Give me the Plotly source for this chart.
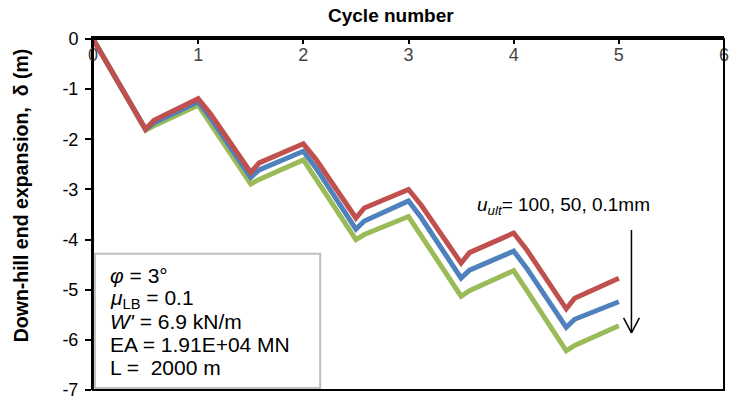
import plotly.graph_objects as go

# Cycle position of each recorded point (half cycles with reload / unload kinks)
cycle = [0, 0.5, 0.58, 1.0, 1.12, 1.5, 1.58, 2.0, 2.12, 2.5, 2.58,
         3.0, 3.12, 3.5, 3.58, 4.0, 4.12, 4.5, 4.58, 5.0]

# Down-hill end expansion (m) for each ultimate displacement u_ult
delta_100mm = [0, -1.80, -1.62, -1.19, -1.50, -2.66, -2.47, -2.09, -2.40, -3.57, -3.37,
               -3.00, -3.31, -4.47, -4.26, -3.87, -4.19, -5.38, -5.17, -4.77]
delta_50mm = [0, -1.80, -1.67, -1.25, -1.58, -2.76, -2.61, -2.24, -2.57, -3.79, -3.63,
              -3.23, -3.56, -4.77, -4.61, -4.23, -4.56, -5.75, -5.59, -5.24]
delta_01mm = [0, -1.82, -1.73, -1.32, -1.70, -2.89, -2.80, -2.41, -2.79, -4.00, -3.90,
              -3.54, -3.92, -5.13, -5.02, -4.62, -5.00, -6.22, -6.11, -5.72]

series_names = ["u_ult = 100 mm", "u_ult = 50 mm", "u_ult = 0.1 mm"]
series_colors = ["#C0504D", "#4F81BD", "#9BBB59"]

x_ticks = [0, 1, 2, 3, 4, 5, 6]
y_ticks = [0, -1, -2, -3, -4, -5, -6, -7]
y_tick_text = ["0", "-1", "-2", "-3", "-4", "-5", "-6", "-7"]

info_lines = [
    "<i>φ</i> = 3°",
    "<i>μ</i><sub>LB</sub> = 0.1",
    "<i>W'</i> = 6.9 kN/m",
    "EA = 1.91E+04 MN",
    "L =  2000 m",
]

FONT = "Arial, Liberation Sans, sans-serif"

fig = go.Figure()

# draw green first, then blue, then red on top
for ys, name, color in [(delta_01mm, series_names[2], series_colors[2]),
                        (delta_50mm, series_names[1], series_colors[1]),
                        (delta_100mm, series_names[0], series_colors[0])]:
    fig.add_trace(go.Scatter(x=cycle, y=ys, mode="lines", name=name,
                             line=dict(color=color, width=5),
                             showlegend=False))

fig.update_layout(
    width=734, height=405,
    margin=dict(l=93, r=5, t=39, b=10),
    paper_bgcolor="white", plot_bgcolor="white",
    font=dict(family=FONT, size=18, color="black"),
    xaxis=dict(
        range=[0, 6], tickvals=x_ticks, side="top",
        ticks="inside", ticklen=5, tickwidth=2, tickcolor="black",
        ticklabelposition="inside", ticklabeloverflow="allow",
        ticklabelstandoff=5,
        showline=True, linecolor="black", linewidth=3,
        showgrid=False, zeroline=False,
        tickfont=dict(size=18),
    ),
    yaxis=dict(
        range=[-7, 0], tickvals=y_ticks, ticktext=y_tick_text,
        ticks="outside", ticklen=6, tickwidth=1.5, tickcolor="black",
        ticklabelstandoff=3, ticklabeloverflow="allow",
        showline=True, linecolor="black", linewidth=2,
        showgrid=False, zeroline=False,
        tickfont=dict(size=18),
    ),
)

shapes = [
    # plot-area frame (bottom and right edges)
    dict(type="rect", xref="paper", yref="paper", x0=0, x1=1, y0=0, y1=1,
         line=dict(color="black", width=2), layer="above"),
    # parameter box
    dict(type="rect", xref="paper", yref="paper", x0=0.003, x1=0.360,
         y0=0.006, y1=0.388, line=dict(color="#BFBFBF", width=2),
         fillcolor="white", layer="above"),
    # arrow showing the order of u_ult
    dict(type="line", xref="x", yref="y", x0=5.12, x1=5.12, y0=-3.81, y1=-5.86,
         line=dict(color="black", width=1.5)),
    dict(type="line", xref="x", yref="y", x0=5.045, x1=5.12, y0=-5.56, y1=-5.86,
         line=dict(color="black", width=1.5)),
    dict(type="line", xref="x", yref="y", x0=5.195, x1=5.12, y0=-5.56, y1=-5.86,
         line=dict(color="black", width=1.5)),
]
fig.update_layout(shapes=shapes)

annotations = [
    dict(text="<b>Cycle number</b>", xref="paper", yref="paper", x=0.472, y=1.067,
         xanchor="center", yanchor="middle", showarrow=False, font=dict(size=19)),
    dict(text="<b>Down-hill end expansion,  δ (m)</b>", xref="paper", yref="paper",
         x=-0.115, y=0.556, textangle=-90, xanchor="center", yanchor="middle",
         showarrow=False, font=dict(size=19.5)),
    dict(text="<i>u<sub>ult</sub></i>= 100, 50, 0.1mm", xref="x", yref="y",
         x=4.47, y=-3.34, xanchor="center", yanchor="middle", showarrow=False,
         font=dict(size=19)),
]
line_y = [278.5, 303, 326, 349, 372.5]
for txt, py in zip(info_lines, line_y):
    annotations.append(dict(text=txt, xref="paper", yref="paper",
                            x=0.0236, y=(395 - py) / 356, xanchor="left",
                            yanchor="middle", showarrow=False,
                            font=dict(size=21)))
fig.update_layout(annotations=annotations)

fig.write_html("out.html")
